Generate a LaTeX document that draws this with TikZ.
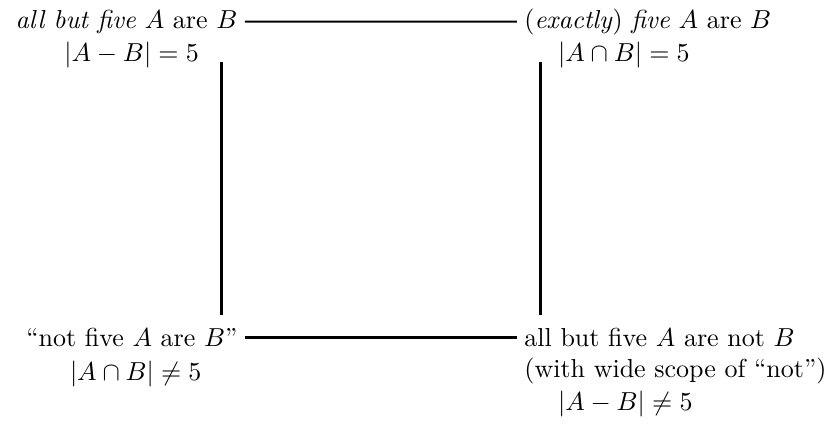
\documentclass[tikz,border=0pt]{standalone}
\usetikzlibrary{calc}
\begin{document}
\begin{tikzpicture}[x=1pt,y=1pt,
        claim/.style={inner xsep=2.7pt,inner ysep=0pt},
        formula/.style={inner sep=0pt},
        thinside/.style={line width=0.8pt},
        thickside/.style={line width=1.2pt}]
            \useasboundingbox (0,0) rectangle (322.7,162.7);
            \node[claim,anchor=base east] (tl) at (94.2,151.9) {\textit{all but five} $A$ are $B$};
            \node[claim,anchor=base west] (tr) at (198.8,151.9) {(\textit{exactly}) \textit{five} $A$ are $B$};
            \node[claim,anchor=base east] (bl) at (94.2,29.4) {``not five $A$ are $B$''};
            \node[claim,anchor=base west] (br) at (198.8,29.4) {all but five $A$ are not $B$};
            \node[formula,anchor=base] (tlm) at ([xshift=2pt,yshift=-13pt]tl.base) {$|A-B|=5$};
            \node[formula,anchor=base] (blm) at ([xshift=1.5pt,yshift=-13pt]bl.base) {$|A\cap B|\neq 5$};
            \node[formula,anchor=base west] (trm) at ([xshift=15.7pt,yshift=-13pt]tr.base west) {$|A\cap B|=5$};
            \node[formula,anchor=base west] (brs) at ([xshift=2.7pt,yshift=-12pt]br.base west) {(with wide scope of ``not'')};
            \node[formula,anchor=base west] (brm) at ([xshift=15.7pt,yshift=-24.5pt]br.base west) {$|A-B|\neq 5$};
            \coordinate (lt) at ([xshift=-9pt,yshift=-13pt]tl.base east);
            \coordinate (lb) at ([xshift=-9pt,yshift=12pt]bl.base east);
            \coordinate (rt) at ([xshift=9pt,yshift=-13pt]tr.base west);
            \coordinate (rb) at ([xshift=9pt,yshift=12pt]br.base west);
            \draw[thinside] (tl.east) -- (tr.west);
            \draw[thickside] (bl.east) -- (br.west);
            \draw[thickside] (lt) -- (lb);
            \draw[thickside] (rt) -- (rb);
        \end{tikzpicture}
\end{document}
